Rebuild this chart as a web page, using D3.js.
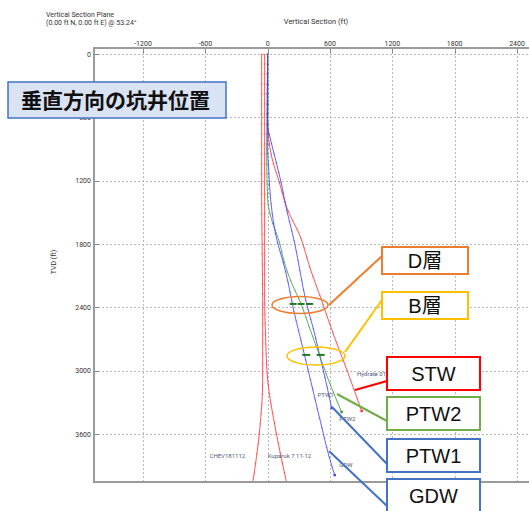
<!DOCTYPE html>
<html>
<head>
<meta charset="utf-8">
<script src="https://cdn.jsdelivr.net/npm/d3@7"></script>
<style>
  body { margin: 0; background: #fff; }
  svg { display: block; }
</style>
</head>
<body>
<script>
var width = 529;
var height = 511;

// axis ticks (ft)
var xTicks = [-1200, -600, 0, 600, 1200, 1800, 2400];
var yTicks = [0, 600, 1200, 1800, 2400, 3000, 3600];

// well trajectories: vertical section (ft) and TVD (ft)
var chevVS  = [-58, -58, -48, -48, -77, -144];
var chevTVD = [0, 1383, 2331, 3089, 3562, 4064];

var kupVS  = [-29, -29, -19, 0, 77, 183];
var kupTVD = [0, 2331, 2710, 3089, 3562, 4064];

var hydVS  = [0, 0, 39, 106, 193, 308, 414, 501, 635, 770, 905];
var hydTVD = [0, 625, 976, 1194, 1478, 1715, 2046, 2283, 2662, 3013, 3382];

var ptw1VS  = [0, 0, 29, 77, 135, 183, 260, 318, 366, 443, 501, 568, 616];
var ptw1TVD = [0, 673, 815, 1004, 1241, 1478, 1791, 2094, 2331, 2615, 2852, 3136, 3354];

var ptw2VS  = [0, -10, 0, 39, 116, 154, 231, 318, 404, 491, 578, 655, 712];
var ptw2TVD = [0, 909, 1383, 1573, 1791, 1952, 2170, 2359, 2596, 2833, 3070, 3259, 3392];

var gdwVS  = [0, 0, 10, 29, 96, 144, 202, 250, 308, 366, 424, 481, 539, 587, 645];
var gdwTVD = [0, 909, 1099, 1383, 1791, 1952, 2188, 2425, 2662, 2899, 3136, 3373, 3610, 3799, 3989];

// formation tops picked on the wells (VS, TVD)
var topD_VS = [245, 322, 404];
var topD_TVD = 2368;
var topB_VS = [371, 510];
var topB_TVD = 2851;

var svg = d3.select('body').append('svg')
    .attr('width', width)
    .attr('height', height);

var x = d3.scaleLinear().domain([-1200, 2400]).range([143, 517]);
var y = d3.scaleLinear().domain([0, 3600]).range([54, 434]);

// plot frame (window.top is read-only, so no "top" here)
var pLeft = 94, pTop = 48, pBottom = 482, pRight = width;

var small = 'Roboto, "Liberation Sans", sans-serif';

// header texts
svg.append('text').attr('x', 46).attr('y', 17)
    .attr('font-family', small).attr('font-size', 7).attr('fill', '#333')
    .text('Vertical Section Plane');
svg.append('text').attr('x', 46).attr('y', 25)
    .attr('font-family', small).attr('font-size', 7).attr('fill', '#333')
    .text('(0.00 ft N, 0.00 ft E) @ 53.24°');
svg.append('text').attr('x', 316).attr('y', 24)
    .attr('text-anchor', 'middle')
    .attr('font-family', small).attr('font-size', 7.5).attr('fill', '#333')
    .text('Vertical Section (ft)');

svg.append('text')
    .attr('transform', 'translate(56,262) rotate(-90)')
    .attr('text-anchor', 'middle')
    .attr('font-family', small).attr('font-size', 7).attr('fill', '#333')
    .text('TVD (ft)');

svg.append('clipPath').attr('id', 'plot')
    .append('rect').attr('x', pLeft).attr('y', pTop)
    .attr('width', pRight - pLeft).attr('height', pBottom - pTop);

// grid
var grid = svg.append('g').attr('stroke', '#b8b8b8').attr('stroke-width', 1)
    .attr('stroke-dasharray', '2,2');
grid.selectAll('.vg').data(xTicks).enter().append('line')
    .attr('x1', (d) => Math.round(x(d)) + 0.5).attr('x2', (d) => Math.round(x(d)) + 0.5)
    .attr('y1', pTop).attr('y2', pBottom);
grid.selectAll('.hg').data(yTicks).enter().append('line')
    .attr('y1', (d) => Math.round(y(d)) + 0.5).attr('y2', (d) => Math.round(y(d)) + 0.5)
    .attr('x1', pLeft).attr('x2', pRight);

// tick labels
svg.append('g').selectAll('text').data(xTicks).enter().append('text')
    .attr('x', (d) => x(d)).attr('y', 46)
    .attr('text-anchor', 'middle')
    .attr('font-family', small).attr('font-size', 7).attr('fill', '#333')
    .text((d) => d);
svg.append('g').selectAll('text').data(yTicks).enter().append('text')
    .attr('x', 91).attr('y', (d) => y(d) + 2.5)
    .attr('text-anchor', 'end')
    .attr('font-family', small).attr('font-size', 7).attr('fill', '#333')
    .text((d) => d);

// tick marks
svg.append('g').attr('stroke', '#888').selectAll('line').data(xTicks).enter().append('line')
    .attr('x1', (d) => Math.round(x(d)) + 0.5).attr('x2', (d) => Math.round(x(d)) + 0.5)
    .attr('y1', pTop).attr('y2', pTop + 5);
svg.append('g').attr('stroke', '#888').selectAll('line').data(yTicks).enter().append('line')
    .attr('y1', (d) => Math.round(y(d)) + 0.5).attr('y2', (d) => Math.round(y(d)) + 0.5)
    .attr('x1', pLeft).attr('x2', pLeft + 5);

// wells
var wells = [
    { name: 'CHEV181112', vs: chevVS, tvd: chevTVD, color: '#ff2a2a', label: [-560, 3830], end: false },
    { name: 'Kuparuk 7 11-12', vs: kupVS, tvd: kupTVD, color: '#ff2a2a', label: [0, 3830], end: false },
    { name: 'Hydrate 01', vs: hydVS, tvd: hydTVD, color: '#ff2a2a', label: [860, 3050], end: true },
    { name: 'PTW1', vs: ptw1VS, tvd: ptw1TVD, color: '#3b3bff', label: [480, 3250], end: true },
    { name: 'PTW2', vs: ptw2VS, tvd: ptw2TVD, color: '#3a9a3a', label: [690, 3480], end: true },
    { name: 'GDW', vs: gdwVS, tvd: gdwTVD, color: '#3b3bff', label: [690, 3910], end: true }
];

var line = d3.line().x((d) => x(d[0])).y((d) => y(d[1])).curve(d3.curveMonotoneY);

var wg = svg.append('g').attr('clip-path', 'url(#plot)');

wells.forEach((w) => {
    var pts = w.vs.map((v, i) => [v, w.tvd[i]]);
    var p = wg.append('path')
        .attr('d', line(pts))
        .attr('fill', 'none')
        .attr('stroke', w.color)
        .attr('stroke-opacity', 0.8)
        .attr('stroke-width', 1);
    // survey station dots along the path
    var node = p.node();
    var len = node.getTotalLength();
    for (var s = 0; s < len; s += 10) {
        var q = node.getPointAtLength(s);
        wg.append('line')
            .attr('x1', q.x - 1).attr('x2', q.x + 1)
            .attr('y1', q.y).attr('y2', q.y)
            .attr('stroke', w.color).attr('stroke-opacity', 0.35);
    }
    if (w.end) {
        var last = pts[pts.length - 1];
        wg.append('rect')
            .attr('x', x(last[0]) - 1.2).attr('y', y(last[1]) - 1.2)
            .attr('width', 2.4).attr('height', 2.4)
            .attr('fill', w.color);
    }
    wg.append('text')
        .attr('x', x(w.label[0])).attr('y', y(w.label[1]))
        .attr('font-family', small).attr('font-size', 6)
        .attr('fill', '#505a78')
        .text(w.name);
});

// formation tops
var tops = wg.append('g').attr('stroke', '#1f7a1f').attr('stroke-width', 2);
tops.selectAll('.d').data(topD_VS).enter().append('line')
    .attr('x1', (d) => x(d) - 3.5).attr('x2', (d) => x(d) + 3.5)
    .attr('y1', y(topD_TVD)).attr('y2', y(topD_TVD));
tops.selectAll('.b').data(topB_VS).enter().append('line')
    .attr('x1', (d) => x(d) - 4).attr('x2', (d) => x(d) + 4)
    .attr('y1', y(topB_TVD)).attr('y2', y(topB_TVD));

// frame
var frame = svg.append('g').attr('stroke', '#9a9a9a').attr('stroke-width', 2).attr('fill', 'none');
frame.append('path').attr('d', `M${pRight},${pTop}H${pLeft}V${pBottom}H${pRight}`);

// annotations
var ann = svg.append('g');
ann.append('ellipse').attr('cx', 300).attr('cy', 305).attr('rx', 28).attr('ry', 8.5)
    .attr('fill', 'none').attr('stroke', '#ed7d31').attr('stroke-width', 1.5);
ann.append('ellipse').attr('cx', 316).attr('cy', 356).attr('rx', 29).attr('ry', 9)
    .attr('fill', 'none').attr('stroke', '#ffc000').attr('stroke-width', 1.5);

var leaders = [
    { c: '#ed7d31', p: [329, 305, 382, 256] },
    { c: '#ffc000', p: [345, 352, 382, 300] },
    { c: '#ff0000', p: [355, 390, 387, 381] },
    { c: '#70ad47', p: [337, 394, 387, 421] },
    { c: '#4472c4', p: [332, 407, 387, 464] },
    { c: '#4472c4', p: [329, 451, 387, 506] }
];
ann.selectAll('.ld').data(leaders).enter().append('line')
    .attr('x1', (d) => d.p[0]).attr('y1', (d) => d.p[1])
    .attr('x2', (d) => d.p[2]).attr('y2', (d) => d.p[3])
    .attr('stroke', (d) => d.c).attr('stroke-width', 2);

var boxes = [
    { t: 'D層', c: '#ed7d31', b: [382, 247, 86, 27] },
    { t: 'B層', c: '#ffc000', b: [382, 292, 86, 27] },
    { t: 'STW', c: '#ff0000', b: [387, 357, 93, 33] },
    { t: 'PTW2', c: '#70ad47', b: [387, 397, 93, 33] },
    { t: 'PTW1', c: '#4472c4', b: [387, 439, 93, 33] },
    { t: 'GDW', c: '#4472c4', b: [387, 479, 93, 33] }
];
var bg = ann.selectAll('.bx').data(boxes).enter().append('g');
bg.append('rect')
    .attr('x', (d) => d.b[0]).attr('y', (d) => d.b[1])
    .attr('width', (d) => d.b[2]).attr('height', (d) => d.b[3])
    .attr('fill', '#fff').attr('stroke', (d) => d.c).attr('stroke-width', 2);
bg.append('text')
    .attr('x', (d) => d.b[0] + d.b[2] / 2)
    .attr('y', (d) => d.b[1] + d.b[3] / 2 + 7)
    .attr('text-anchor', 'middle')
    .attr('font-family', '"Liberation Sans", "Noto Sans CJK JP", sans-serif')
    .attr('font-size', 20).attr('fill', '#111')
    .text((d) => d.t);

// title
ann.append('rect').attr('x', 8).attr('y', 82).attr('width', 218).attr('height', 36)
    .attr('fill', '#dae3f3').attr('stroke', '#4472c4').attr('stroke-width', 1.5);
ann.append('text').attr('x', 21).attr('y', 108)
    .attr('font-family', '"Noto Sans CJK JP", sans-serif')
    .attr('font-weight', 'bold').attr('font-size', 21).attr('fill', '#111')
    .text('垂直方向の坑井位置');
</script>
</body>
</html>
